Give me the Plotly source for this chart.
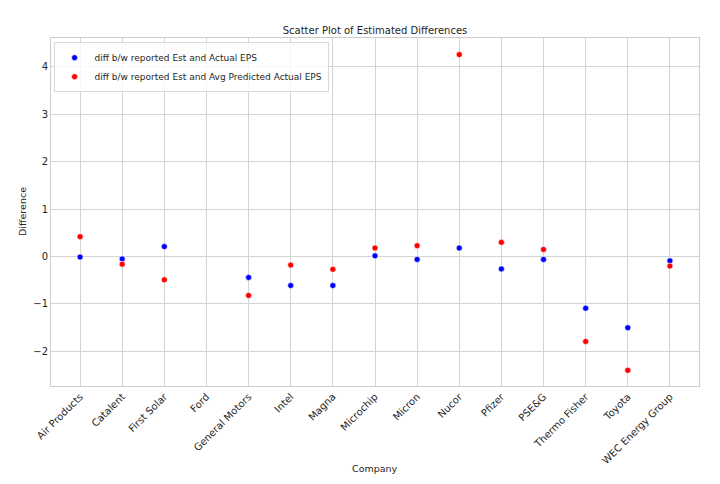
import plotly.graph_objects as go

companies = ["Air Products", "Catalent", "First Solar", "Ford", "General Motors", "Intel", "Magna",
             "Microchip", "Micron", "Nucor", "Pfizer", "PSE&G", "Thermo Fisher", "Toyota", "WEC Energy Group"]
diff_actual = [-0.01, -0.05, 0.21, None, -0.44, -0.61, -0.61, 0.015, -0.06, 0.18, -0.26, -0.06, -1.09, -1.50, -0.09]
diff_avg_pred = [0.42, -0.16, -0.49, None, -0.82, -0.18, -0.27, 0.18, 0.23, 4.26, 0.30, 0.15, -1.79, -2.40, -0.20]

FONT = "DejaVu Sans"
fig = go.Figure()
fig.add_trace(go.Scatter(x=companies, y=diff_actual, mode="markers",
                         name="diff b/w reported Est and Actual EPS",
                         marker=dict(color="blue", size=6, line=dict(color="white", width=0.6))))
fig.add_trace(go.Scatter(x=companies, y=diff_avg_pred, mode="markers",
                         name="diff b/w reported Est and Avg Predicted Actual EPS",
                         marker=dict(color="red", size=6, line=dict(color="white", width=0.6))))

fig.update_layout(
    width=720, height=484,
    margin=dict(l=51, r=21, t=38, b=98),
    paper_bgcolor="white", plot_bgcolor="white",
    font=dict(family=FONT, size=10, color="#262626"),
    title=dict(text="Scatter Plot of Estimated Differences", xref="paper", x=0.5, xanchor="center",
               yref="container", y=1 - 30 / 484, yanchor="middle", font=dict(size=10, color="#262626"),
               automargin=False),
    showlegend=True,
    legend=dict(x=0.004, y=0.988, xanchor="left", yanchor="top", bgcolor="rgba(255,255,255,0.8)",
                bordercolor="#d9d9d9", borderwidth=1, font=dict(size=9),
                itemwidth=30, tracegroupgap=0),
    xaxis=dict(type="category", categoryorder="array", categoryarray=companies,
               range=[-0.69, 14.69], tickangle=-45, showgrid=True, gridcolor="#d4d4d4",
               gridwidth=1, showline=True, linecolor="#cccccc", mirror=True, ticks="",
               automargin=False, zeroline=False),
    yaxis=dict(range=[-2.73, 4.61], dtick=1, showgrid=True, gridcolor="#d4d4d4", gridwidth=1,
               showline=True, linecolor="#cccccc", mirror=True, ticks="", zeroline=False,
               automargin=False, tickformat="d"),
    annotations=[
        dict(text="Company", xref="paper", yref="paper", x=0.5, y=-(468 - 386) / 348,
             xanchor="center", yanchor="middle", showarrow=False, font=dict(size=9.5)),
        dict(text="Difference", xref="paper", yref="paper", x=-(51 - 22) / 648, y=0.5,
             xanchor="center", yanchor="middle", textangle=-90, showarrow=False, font=dict(size=9.5)),
    ],
)
fig.write_html("out.html", config={"displayModeBar": False},
               post_script="document.body.style.margin='0';document.body.style.padding='0';")
